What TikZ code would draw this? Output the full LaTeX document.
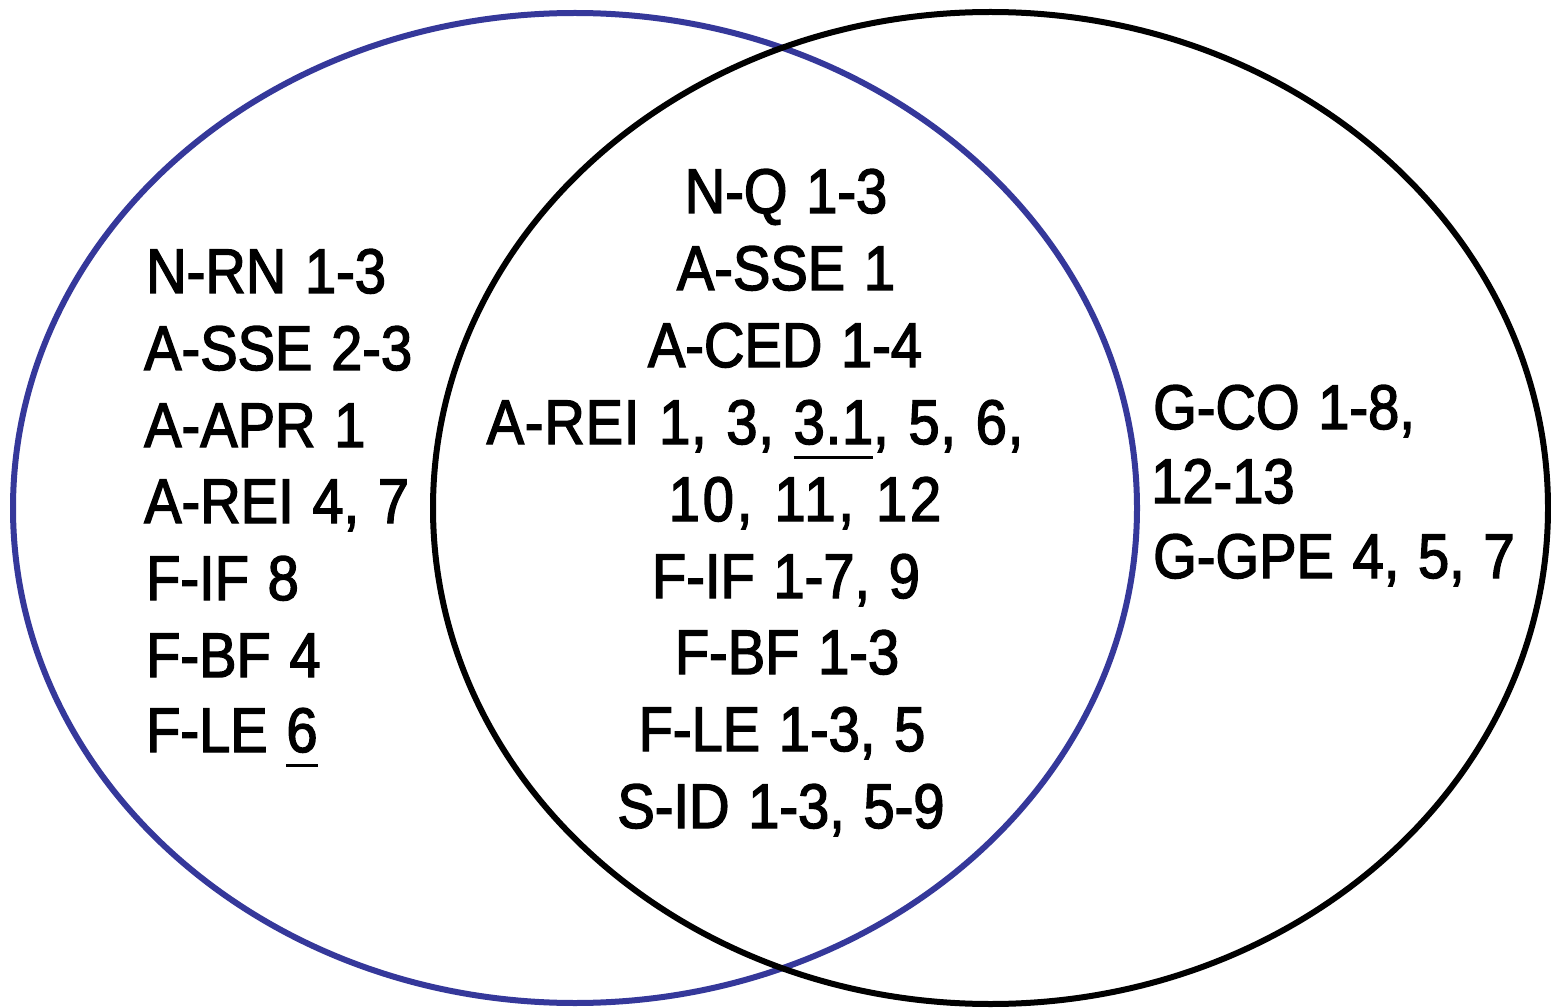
\documentclass[tikz,border=0pt]{standalone}
\usepackage{fontspec}
\setmainfont{Liberation Sans}[FakeStretch=0.89, FakeBold=2.2, WordSpace=1.2]
\definecolor{vennblue}{RGB}{53,56,154}
\newcommand\myul[1]{\setbox0\hbox{#1}\rlap{\rule[-15pt]{\wd0}{3pt}}\box0}
\tikzset{
  lbl/.style={inner sep=0pt, font=\fontsize{63}{77}\selectfont},
  lw/.style={lbl, anchor=base west},
  lc/.style={lbl, anchor=base},
  ring/.style={line width=6pt}
}
\begin{document}
\begin{tikzpicture}[x=1pt,y=-1pt]
\useasboundingbox (0,0) rectangle (1551,1008);
\fill[white] (0,0) rectangle (1551,1008);
\draw[ring, vennblue] (575,508) ellipse [x radius=562, y radius=495];
\draw[ring, black] (990.5,508) ellipse [x radius=557.5, y radius=496];
% left
\node[lw] (l1) at (146,293) {N-RN 1-3};
\node[lw] (l2) at (144,370) {A-SSE 2-3};
\node[lw] (l3) at (144,447) {A-APR 1};
\node[lw] (l4) at (144,523) {A-REI 4, 7};
\node[lw] (l5) at (146,600) {F-IF 8};
\node[lw] (l6) at (146,677) {F-BF 4};
\node[lw] (l7) at (146,752) {F-LE \myul{6}};
% center
\node[lc] (c1) at (786,213) {N-Q 1-3};
\node[lc] (c2) at (786,290) {A-SSE 1};
\node[lc] (c3) at (785,367) {A-CED 1-4};
\node[lc] (c4) at (755,444) {\addfontfeature{LetterSpace=1.3}A-REI 1, 3, \myul{3.1}, 5, 6,};
\node[lc] (c5) at (805,521) {\addfontfeature{LetterSpace=4.5}10, 11, 12};
\node[lc] (c6) at (786,598) {F-IF 1-7, 9};
\node[lc] (c7) at (787,674) {F-BF 1-3};
\node[lc] (c8) at (782,751) {F-LE 1-3, 5};
\node[lc] (c9) at (781,828) {S-ID 1-3, 5-9};
% right
\node[lw] (r1) at (1153,429) {G-CO 1-8,};
\node[lw] (r2) at (1151,503) {12-13};
\node[lw] (r3) at (1153,578) {G-GPE 4, 5, 7};
\end{tikzpicture}
\end{document}
